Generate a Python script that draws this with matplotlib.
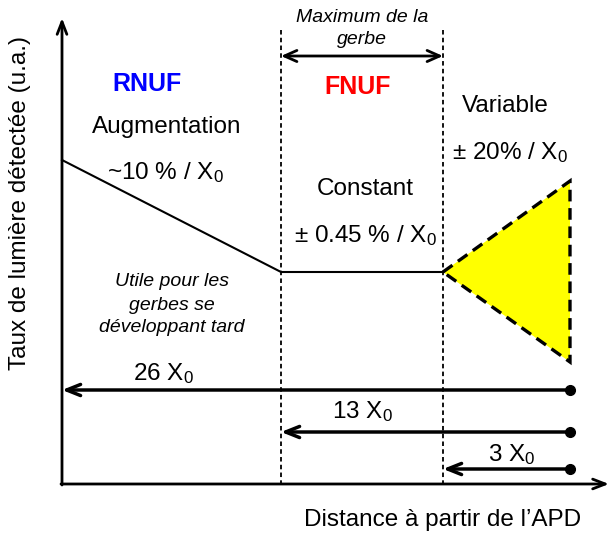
import matplotlib.pyplot as plt
from matplotlib.patches import Polygon

plt.rcParams["font.family"] = ["Liberation Sans", "DejaVu Sans"]
plt.rcParams["mathtext.fontset"] = "custom"
plt.rcParams["mathtext.rm"] = "Liberation Sans"
plt.rcParams["mathtext.it"] = "Liberation Sans:italic"

# schematic geometry (canvas units, y grows downward)
axis_origin = (62, 484)
axis_ends = (609, 18)
zone_edges_x = [281, 443]
zone_top_y = 30

yield_x = [62, 281, 443]
yield_y = [160, 272, 272]

spread_x = [443, 570, 570]
spread_y = [272, 181, 362]

span_labels = ["26 $\\mathrm{X}_0$", "13 $\\mathrm{X}_0$", "3 $\\mathrm{X}_0$"]
span_starts = [62, 281, 443]
span_rows = [390, 432, 469]
span_end = 570
span_label_pos = [(163, 374), (362, 412), (512, 455)]

fig = plt.figure(figsize=(6.14, 5.36), dpi=100)
ax = fig.add_axes([0, 0, 1, 1])
ax.set_xlim(0, 614)
ax.set_ylim(536, 0)
ax.axis("off")

x0, y0 = axis_origin
axis_arrow = dict(arrowstyle="->,head_length=0.9,head_width=0.35", lw=2, color="black",
                  shrinkA=0, shrinkB=0)
ax.annotate("", xy=(x0, axis_ends[1]), xytext=(x0, y0 + 1), arrowprops=axis_arrow)
ax.annotate("", xy=(axis_ends[0], y0), xytext=(x0 - 1, y0), arrowprops=axis_arrow)

for xe in zone_edges_x:
    ax.plot([xe, xe], [zone_top_y, y0], color="black", lw=1.3, ls=(0, (2.5, 1.8)))

ax.annotate("", xy=(zone_edges_x[0], 56), xytext=(zone_edges_x[1], 56),
            arrowprops=dict(arrowstyle="<->,head_length=0.9,head_width=0.4", lw=2,
                            color="black", shrinkA=0, shrinkB=0))

ax.plot(yield_x, yield_y, color="black", lw=1.5)

tri = Polygon(list(zip(spread_x, spread_y)), closed=True, facecolor="#ffff00",
              edgecolor="black", lw=2.4, ls=(0, (3.5, 2)))
ax.add_patch(tri)

span_arrow = dict(arrowstyle="->,head_length=1.0,head_width=0.4", lw=2.5, color="black",
                  shrinkA=0, shrinkB=0)
big = 17.5
for label, xs, yr, (lx, ly) in zip(span_labels, span_starts, span_rows, span_label_pos):
    ax.annotate("", xy=(xs, yr), xytext=(span_end, yr), arrowprops=span_arrow)
    ax.plot(span_end, yr, "o", color="black", ms=7)
    ax.text(lx, ly, label, fontsize=big, ha="center", va="center")

small = 14
ax.text(362, 17, "Maximum de la", fontsize=small, style="italic", ha="center", va="center")
ax.text(362, 40, "gerbe", fontsize=small, style="italic", ha="center", va="center")
ax.text(147, 84, "RNUF", fontsize=18, weight="bold", color="#0000ff", ha="center", va="center")
ax.text(358, 87, "FNUF", fontsize=18, weight="bold", color="#ff0000", ha="center", va="center")
ax.text(505, 106, "Variable", fontsize=big, ha="center", va="center")
ax.text(167, 127, "Augmentation", fontsize=big, ha="center", va="center")
ax.text(165, 173, "~10 % / $\\mathrm{X}_0$", fontsize=big, ha="center", va="center")
ax.text(365, 189, "Constant", fontsize=big, ha="center", va="center")
ax.text(365, 236, "± 0.45 % / $\\mathrm{X}_0$", fontsize=big, ha="center", va="center")
ax.text(510, 153, "± 20% / $\\mathrm{X}_0$", fontsize=big, ha="center", va="center")
for line, yy in zip(["Utile pour les", "gerbes se", "développant tard"], [282, 305, 327]):
    ax.text(172, yy, line, fontsize=small, style="italic", ha="center", va="center")

ax.text(443, 520, "Distance à partir de l\u2019APD", fontsize=big, ha="center", va="center")
ax.text(20, 203, "Taux de lumière détectée (u.a.)", fontsize=big, rotation=90,
        ha="center", va="center")

fig.savefig("out.png", dpi=100)
